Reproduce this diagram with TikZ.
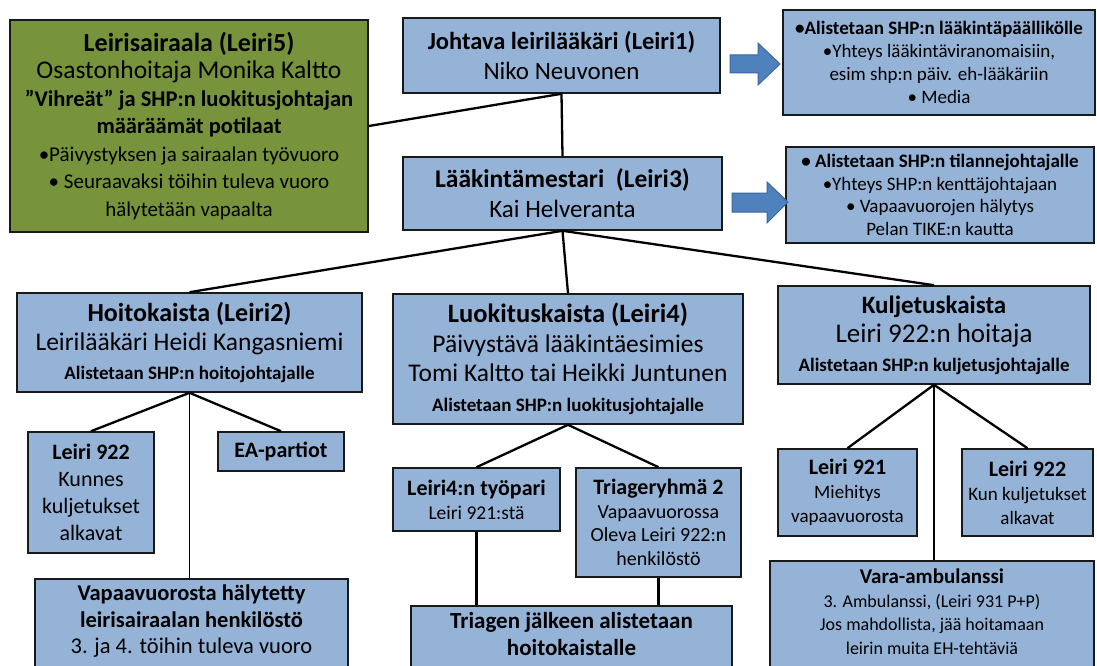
\documentclass[tikz,border=0pt]{standalone}
\usepackage{fontspec}
\setmainfont{Carlito}
\usetikzlibrary{positioning}

\definecolor{sininen}{HTML}{95B3D7}
\definecolor{vihrea}{HTML}{77933C}
\definecolor{nuolisin}{HTML}{4F81BD}
\definecolor{nuolireuna}{HTML}{3A679C}

% fonttikoko rivin sisalla, rivivali pysyy
\newcommand{\koko}[1]{\fontsize{#1}{\baselineskip}\selectfont}

\tikzset{
  laatikko/.style={draw=black!90, fill=sininen, line width=1.6pt, align=center, inner sep=0pt},
  vihrealaatikko/.style={laatikko, fill=vihrea},
  viiva/.style={line width=2.3pt},
  ohutviiva/.style={line width=1.4pt},
  nuoli/.style={fill=nuolisin, draw=nuolireuna, line width=1pt, line join=miter}
}

\begin{document}
\begin{tikzpicture}[x=1pt,y=-1pt]
  \useasboundingbox (0,0) rectangle (1097,666);
  \clip (0,0) rectangle (1097,666);

  % Ylin taso
  \node[vihrealaatikko, minimum width=358, minimum height=212,
        font=\fontsize{21}{27.5}\selectfont] (sairaala) at (189,126)
    {{\koko{26}\bfseries Leirisairaala (Leiri5)}\\
     {\koko{25.5}Osastonhoitaja Monika Kaltto}\\
     {\koko{22.5}\bfseries ”Vihreät” ja SHP:n luokitusjohtajan}\\
     {\koko{22.5}\bfseries määräämät potilaat}\\
     •Päivystyksen ja sairaalan työvuoro\\
     • Seuraavaksi töihin tuleva vuoro\\
     hälytetään vapaalta};

  \node[laatikko, minimum width=317, minimum height=75,
        font=\fontsize{25}{30}\selectfont] (johtava) at (561.5,55.5)
    {{\koko{24.5}\bfseries Johtava leirilääkäri (Leiri1)}\\ Niko Neuvonen};

  \node[laatikko, minimum width=319, minimum height=73,
        font=\fontsize{25}{30}\selectfont] (mestari) at (562.5,193.5)
    {{\koko{25.5}\bfseries Lääkintämestari\ \ (Leiri3)}\\ Kai Helveranta};

  \node[laatikko, minimum width=312, minimum height=105,
        font=\fontsize{19}{23}\selectfont] (info1) at (939,62.5)
    {\textbf{•Alistetaan SHP:n lääkintäpäällikölle}\\
     •Yhteys lääkintäviranomaisiin,\\
     esim shp:n päiv. eh-lääkäriin\\
     • Media};

  \node[laatikko, minimum width=308, minimum height=96,
        font=\fontsize{19}{22.5}\selectfont] (info2) at (940,195)
    {\textbf{• Alistetaan SHP:n tilannejohtajalle}\\
     •Yhteys SHP:n kenttäjohtajaan\\
     • Vapaavuorojen hälytys\\
     Pelan TIKE:n kautta};

  % Nuolet
  \filldraw[nuoli] (730,55) -- (758,55) -- (758,43) -- (780,64)
    -- (758,85) -- (758,73) -- (730,73) -- cycle;
  \filldraw[nuoli] (732,193) -- (767,193) -- (767,182) -- (788,202)
    -- (767,223) -- (767,212) -- (732,212) -- cycle;

  % Kaistat
  \node[laatikko, minimum width=345, minimum height=99,
        font=\fontsize{25.5}{29}\selectfont] (hoito) at (189.5,342.5)
    {{\koko{26}\bfseries Hoitokaista (Leiri2)}\\ Leirilääkäri Heidi Kangasniemi\\
     {\koko{19}\bfseries Alistetaan SHP:n hoitojohtajalle}};

  \node[laatikko, minimum width=350, minimum height=130,
        font=\fontsize{25.5}{29.5}\selectfont] (luokitus) at (568,359)
    {{\koko{26.5}\bfseries Luokituskaista (Leiri4)}\\ Päivystävä lääkintäesimies\\
     Tomi Kaltto tai Heikki Juntunen\\
     {\koko{19}\bfseries Alistetaan SHP:n luokitusjohtajalle}};

  \node[laatikko, minimum width=312, minimum height=98,
        font=\fontsize{27}{29}\selectfont] (kuljetus) at (934,335)
    {{\koko{25}\bfseries Kuljetuskaista}\\ Leiri 922:n hoitaja\\
     {\koko{19}\bfseries Alistetaan SHP:n kuljetusjohtajalle}};

  % Hoitokaistan alla
  \node[laatikko, minimum width=126, minimum height=121,
        font=\fontsize{22}{27}\selectfont] (leiri922a) at (91,492.5)
    {\textbf{Leiri 922}\\ Kunnes\\ kuljetukset\\ alkavat};
  \node[laatikko, minimum width=126, minimum height=39,
        font=\fontsize{22}{27}\selectfont] (ea) at (281,451.5)
    {\textbf{EA-partiot}};
  \node[laatikko, anchor=north, minimum width=313, inner ysep=6,
        text depth=60, font=\fontsize{22.5}{26.5}\selectfont] (vapaa) at (191.5,578)
    {\textbf{Vapaavuorosta hälytetty}\\ \textbf{leirisairaalan\ henkilöstö}\\
     3. ja 4. töihin tuleva vuoro};

  % Luokituskaistan alla
  \node[laatikko, minimum width=167, minimum height=63,
        font=\fontsize{19.5}{24}\selectfont] (tyopari) at (476.5,499.5)
    {{\koko{22}\bfseries Leiri4:n työpari}\\ Leiri 921:stä};
  \node[laatikko, minimum width=165, minimum height=109,
        font=\fontsize{20}{23.5}\selectfont] (triage) at (658.5,522.5)
    {{\koko{22}\bfseries Triageryhmä 2}\\ Vapaavuorossa\\
     Oleva Leiri 922:n\\ henkilöstö};
  \node[laatikko, anchor=north, minimum width=321, inner ysep=7,
        text depth=60, font=\fontsize{23}{27}\selectfont] (jalkeen) at (571.5,605)
    {\textbf{Triagen jälkeen alistetaan}\\ \textbf{hoitokaistalle}};

  % Kuljetuskaistan alla
  \node[laatikko, minimum width=139, minimum height=87,
        font=\fontsize{19}{24}\selectfont] (leiri921) at (847.5,492.5)
    {{\koko{22}\bfseries Leiri 921}\\ Miehitys\\ vapaavuorosta};
  \node[laatikko, minimum width=131, minimum height=87,
        font=\fontsize{19}{24}\selectfont] (leiri922b) at (1027.5,492.5)
    {{\koko{22}\bfseries Leiri 922}\\ Kun kuljetukset\\ alkavat};
  \node[laatikko, anchor=north, minimum width=324, inner ysep=8,
        text depth=60, font=\fontsize{18}{23.5}\selectfont] (vara) at (932,560)
    {{\koko{21}\bfseries Vara-ambulanssi}\\ 3. Ambulanssi, (Leiri 931 P+P)\\
     Jos mahdollista, jää hoitamaan\\ leirin muita EH-tehtäviä};

  % Yhteysviivat
  \draw[viiva] (sairaala.east) -- (johtava.south);
  \draw[viiva] (johtava.south) -- (mestari.north);
  \draw[viiva] (mestari.south) -- (hoito.north);
  \draw[viiva] (mestari.south) -- (luokitus.north);
  \draw[viiva] (mestari.south) -- (kuljetus.north);

  \draw[viiva] (hoito.south) -- (leiri922a.north);
  \draw[viiva] (hoito.south) -- (ea.north);
  \draw[ohutviiva] (hoito.south) -- (hoito.south |- vapaa.north);

  \draw[viiva] (luokitus.south) -- (tyopari.north);
  \draw[viiva] (luokitus.south) -- (triage.north);
  \draw[viiva] (tyopari.south) -- (tyopari.south |- jalkeen.north);
  \draw[viiva] (triage.south) -- (triage.south |- jalkeen.north);

  \draw[viiva] (kuljetus.south) -- (leiri921.north);
  \draw[viiva] (kuljetus.south) -- (leiri922b.north);
  \draw[viiva] (kuljetus.south) -- (kuljetus.south |- vara.north);
\end{tikzpicture}
\end{document}
